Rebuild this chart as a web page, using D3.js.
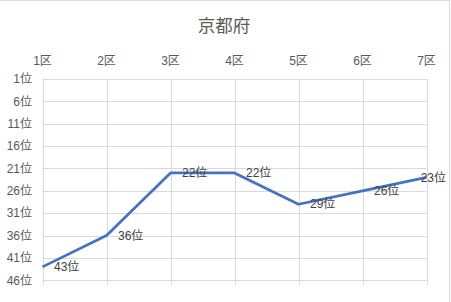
<!DOCTYPE html>
<html><head><meta charset="utf-8">
<script src="https://cdn.jsdelivr.net/npm/d3@7"></script>
<style>body{margin:0;background:#fff}svg{display:block}</style>
</head><body>
<script>
const title = "京都府";
const categories = ["1区","2区","3区","4区","5区","6区","7区"];
const ranks = [43, 36, 22, 22, 29, 26, 23];
const yTicks = [1, 6, 11, 16, 21, 26, 31, 36, 41, 46];
const W = 451, H = 302;
const font = "'Liberation Sans','Noto Sans CJK JP',sans-serif";

const svg = d3.select("body").append("svg").attr("width", W).attr("height", H);
svg.append("rect").attr("x", -2).attr("y", 0.5).attr("width", 451.5).attr("height", H + 5)
  .attr("fill", "#fff").attr("stroke", "#d9d9d9").attr("stroke-width", 1);

const x = d3.scalePoint().domain(categories).range([42.5, 426.5]);
const y = d3.scaleLinear().domain([1, 46]).range([79, 280.3]);

// horizontal gridlines
svg.append("g").selectAll("line").data(yTicks).join("line")
  .attr("x1", 42.5).attr("x2", 426.5)
  .attr("y1", d => Math.round(y(d)) + 0.5).attr("y2", d => Math.round(y(d)) + 0.5)
  .attr("stroke", "#d9d9d9").attr("stroke-width", 1);
// vertical gridlines with small ticks below
svg.append("g").selectAll("line").data(categories).join("line")
  .attr("x1", d => Math.round(x(d)) + 0.5).attr("x2", d => Math.round(x(d)) + 0.5)
  .attr("y1", 79).attr("y2", 285)
  .attr("stroke", "#d9d9d9").attr("stroke-width", 1);

// title
svg.append("text").attr("x", 224).attr("y", 32).attr("text-anchor", "middle")
  .attr("font-family", font).attr("font-size", 17.5).attr("fill", "#595959").text(title);

// x labels (top)
svg.append("g").selectAll("text").data(categories).join("text")
  .attr("x", d => x(d)).attr("y", 65).attr("text-anchor", "middle")
  .attr("font-family", font).attr("font-size", 12).attr("fill", "#595959").text(d => d);

// y labels
svg.append("g").selectAll("text").data(yTicks).join("text")
  .attr("x", 32).attr("y", d => y(d)).attr("dy", "0.35em").attr("text-anchor", "end")
  .attr("font-family", font).attr("font-size", 12).attr("fill", "#595959").text(d => d + "位");

// line
const line = d3.line().x((d, i) => x(categories[i])).y(d => y(d));
svg.append("path").datum(ranks).attr("d", line).attr("fill", "none")
  .attr("stroke", "#4472c4").attr("stroke-width", 2.75).attr("stroke-linejoin", "round");

// data labels
const lbl = svg.append("g").selectAll("text").data(ranks).join("text")
  .attr("y", d => y(d)).attr("dy", "0.35em")
  .attr("font-family", font).attr("font-size", 12).attr("fill", "#404040").text(d => d + "位");
lbl.each(function(d, i) {
  const w = this.getComputedTextLength();
  const px = x(categories[i]) + 11.5;
  d3.select(this).attr("x", Math.min(px, 446 - w));
});
</script>
</body></html>
